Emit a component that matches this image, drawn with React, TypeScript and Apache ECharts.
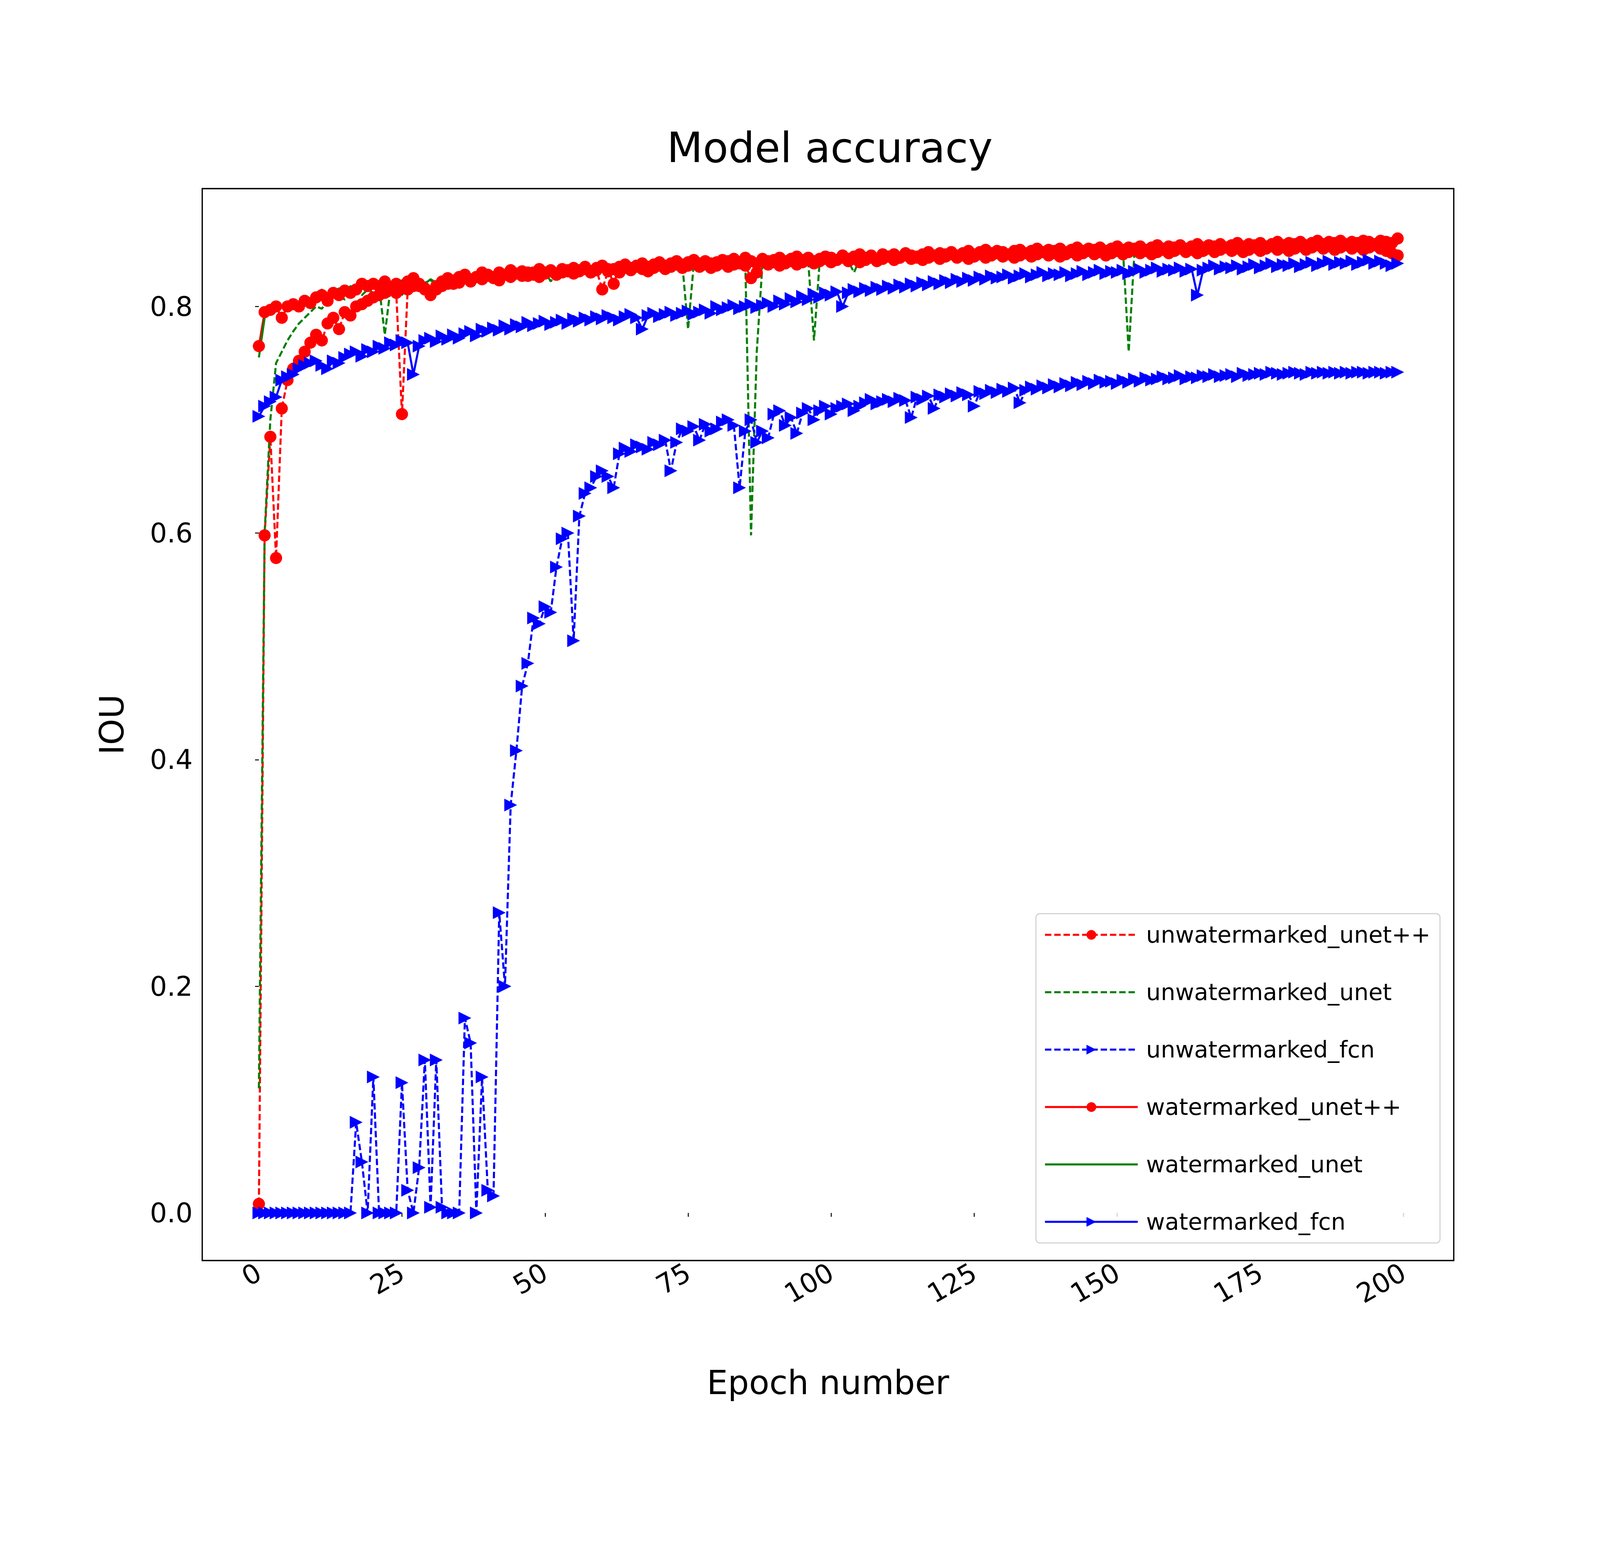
import { useEffect, useRef } from 'react';
import * as echarts from 'echarts';

const xTicks = [0, 25, 50, 75, 100, 125, 150, 175, 200];
const yTicks = [0, 0.2, 0.4, 0.6, 0.8];

const seriesNames = [
  'unwatermarked_unet++',
  'unwatermarked_unet',
  'unwatermarked_fcn',
  'watermarked_unet++',
  'watermarked_unet',
  'watermarked_fcn',
];

const wmUnetpp = [
  .765, .795, .797, .800, .790, .800, .802, .800, .805, .803,
  .808, .810, .805, .812, .810, .814, .812, .815, .820, .818,
  .820, .818, .822, .815, .820, .816, .822, .825, .818, .815,
  .812, .818, .822, .825, .820, .826, .828, .824, .826, .830,
  .828, .826, .830, .828, .832, .829, .831, .827, .830, .833,
  .830, .832, .828, .833, .831, .834, .832, .835, .830, .834,
  .836, .833, .820, .835, .837, .834, .836, .838, .835, .837,
  .839, .836, .838, .840, .837, .839, .841, .838, .840, .838,
  .839, .841, .840, .842, .838, .843, .840, .830, .842, .840,
  .841, .843, .840, .842, .844, .841, .843, .840, .842, .844,
  .843, .841, .845, .842, .844, .846, .843, .845, .842, .846,
  .844, .846, .843, .847, .845, .843, .846, .848, .845, .847,
  .846, .848, .845, .847, .849, .846, .848, .850, .847, .849,
  .848, .846, .849, .850, .847, .849, .851, .848, .850, .849,
  .851, .848, .850, .852, .849, .851, .850, .852, .849, .851,
  .853, .850, .852, .851, .853, .850, .852, .854, .851, .853,
  .852, .854, .851, .853, .855, .852, .854, .853, .855, .852,
  .854, .856, .853, .855, .854, .856, .853, .855, .857, .854,
  .856, .855, .857, .854, .856, .858, .855, .857, .856, .858,
  .855, .857, .856, .858, .857, .855, .858, .857, .856, .860,
];

const unUnetpp = [
  .008, .598, .685, .578, .710, .735, .745, .752, .760, .768,
  .775, .770, .785, .790, .780, .795, .792, .800, .802, .805,
  .808, .810, .812, .815, .812, .705, .815, .818, .820, .816,
  .810, .815, .818, .820, .823, .821, .825, .822, .826, .824,
  .827, .825, .823, .828, .826, .829, .827, .830, .828, .826,
  .829, .831, .828, .830, .832, .829, .831, .833, .830, .832,
  .815, .831, .833, .830, .834, .832, .835, .833, .831, .834,
  .836, .833, .835, .837, .834, .836, .838, .835, .837, .834,
  .836, .838, .835, .837, .839, .836, .825, .838, .840, .837,
  .839, .836, .838, .840, .837, .839, .841, .838, .840, .842,
  .839, .841, .843, .840, .842, .839, .841, .843, .840, .842,
  .844, .841, .843, .845, .842, .844, .841, .843, .845, .842,
  .844, .846, .843, .845, .842, .844, .846, .843, .845, .847,
  .844, .846, .843, .845, .847, .844, .846, .848, .845, .847,
  .844, .846, .848, .845, .847, .849, .846, .848, .845, .847,
  .849, .846, .848, .850, .847, .849, .846, .848, .850, .847,
  .849, .851, .848, .850, .847, .849, .851, .848, .850, .852,
  .849, .851, .848, .850, .852, .849, .851, .853, .850, .852,
  .849, .851, .853, .850, .852, .854, .851, .853, .850, .852,
  .854, .851, .853, .850, .852, .854, .851, .849, .847, .845,
];

const unUnet = [
  .110, .600, .700, .750, .760, .770, .778, .785, .790, .795,
  .800, .798, .805, .808, .810, .806, .812, .814, .810, .815,
  .812, .818, .775, .816, .820, .810, .818, .822, .819, .821,
  .823, .820, .825, .822, .826, .824, .828, .825, .827, .829,
  .826, .828, .830, .827, .829, .831, .828, .830, .832, .829,
  .831, .822, .830, .832, .829, .833, .831, .834, .830, .832,
  .834, .831, .833, .835, .832, .834, .836, .833, .835, .837,
  .834, .836, .838, .835, .837, .780, .838, .836, .839, .837,
  .838, .840, .837, .839, .841, .838, .598, .760, .838, .840,
  .837, .839, .841, .838, .840, .842, .839, .770, .840, .842,
  .839, .841, .843, .840, .830, .842, .844, .841, .843, .845,
  .842, .844, .841, .843, .845, .842, .844, .846, .843, .845,
  .847, .844, .846, .843, .845, .847, .844, .846, .848, .845,
  .847, .844, .846, .848, .845, .847, .849, .846, .848, .845,
  .847, .849, .846, .848, .850, .847, .849, .846, .848, .850,
  .847, .849, .760, .848, .850, .847, .849, .851, .848, .850,
  .852, .849, .851, .848, .850, .852, .849, .851, .853, .850,
  .852, .849, .851, .853, .850, .852, .854, .851, .853, .850,
  .852, .854, .851, .853, .855, .852, .854, .851, .853, .855,
  .852, .854, .856, .853, .855, .852, .854, .856, .853, .855,
];

const wmUnet = [
  .755, .790, .795, .798, .800, .803, .805, .802, .808, .806,
  .810, .815, .808, .812, .816, .813, .818, .815, .819, .817,
  .820, .818, .822, .819, .821, .823, .820, .818, .822, .820,
  .824, .821, .823, .826, .822, .825, .827, .824, .826, .828,
  .825, .827, .829, .826, .828, .830, .827, .829, .831, .828,
  .830, .832, .829, .831, .833, .830, .832, .834, .831, .833,
  .835, .832, .834, .831, .833, .835, .832, .834, .836, .833,
  .835, .837, .834, .836, .838, .835, .837, .839, .836, .838,
  .840, .837, .839, .836, .838, .840, .837, .839, .841, .838,
  .840, .842, .839, .841, .838, .840, .842, .839, .841, .843,
  .840, .842, .844, .841, .843, .845, .842, .844, .841, .843,
  .845, .842, .844, .846, .843, .845, .842, .844, .846, .843,
  .845, .847, .844, .846, .843, .845, .847, .844, .846, .848,
  .845, .847, .844, .846, .848, .845, .847, .849, .846, .848,
  .845, .847, .849, .846, .848, .850, .847, .849, .846, .848,
  .850, .847, .849, .851, .848, .850, .847, .849, .851, .848,
  .850, .852, .849, .851, .848, .850, .852, .849, .851, .853,
  .850, .852, .854, .851, .853, .850, .852, .854, .851, .853,
  .855, .852, .854, .851, .853, .855, .852, .854, .856, .853,
  .855, .852, .854, .856, .853, .855, .857, .854, .856, .855,
];

const wmFcn = [
  .703, .712, .716, .720, .735, .738, .740, .745, .748, .750,
  .752, .748, .745, .752, .750, .755, .758, .760, .756, .762,
  .760, .765, .763, .768, .766, .770, .768, .740, .765, .770,
  .772, .769, .774, .771, .775, .772, .776, .778, .774, .780,
  .778, .781, .779, .783, .780, .784, .782, .786, .783, .785,
  .787, .784, .786, .788, .785, .789, .787, .790, .788, .791,
  .789, .792, .790, .788, .791, .793, .790, .780, .792, .794,
  .791, .793, .795, .792, .794, .796, .793, .795, .797, .794,
  .800, .797, .799, .801, .798, .800, .802, .799, .801, .803,
  .800, .805, .802, .807, .804, .809, .806, .811, .808, .812,
  .810, .813, .800, .812, .815, .813, .816, .814, .817, .815,
  .818, .816, .819, .817, .820, .818, .821, .819, .822, .820,
  .823, .821, .824, .822, .825, .823, .826, .824, .827, .825,
  .826, .828, .825, .827, .829, .826, .828, .830, .827, .829,
  .828, .830, .827, .829, .831, .828, .830, .832, .829, .831,
  .830, .832, .829, .831, .833, .830, .832, .834, .831, .833,
  .832, .834, .831, .833, .810, .832, .834, .836, .833, .835,
  .834, .836, .833, .835, .837, .834, .836, .838, .835, .837,
  .836, .838, .835, .837, .839, .836, .838, .840, .837, .839,
  .838, .840, .837, .839, .841, .838, .840, .838, .836, .838,
];

const unFcn = [
  .000, .000, .000, .000, .000, .000, .000, .000, .000, .000,
  .000, .000, .000, .000, .000, .000, .000, .080, .045, .000,
  .120, .000, .000, .000, .000, .115, .020, .000, .040, .135,
  .005, .135, .005, .000, .000, .000, .172, .150, .000, .120,
  .020, .015, .265, .200, .360, .408, .465, .485, .525, .520,
  .535, .530, .570, .595, .600, .505, .615, .635, .640, .650,
  .655, .650, .640, .670, .675, .672, .678, .676, .674, .680,
  .678, .682, .655, .680, .692, .690, .694, .682, .696, .690,
  .692, .698, .700, .695, .640, .690, .700, .680, .690, .684,
  .705, .708, .695, .702, .688, .706, .710, .700, .708, .712,
  .705, .710, .712, .714, .708, .712, .715, .718, .714, .716,
  .718, .716, .719, .717, .702, .720, .718, .721, .710, .722,
  .720, .723, .721, .724, .722, .712, .725, .723, .726, .724,
  .727, .725, .728, .715, .726, .729, .727, .730, .728, .731,
  .729, .732, .730, .733, .731, .734, .732, .735, .733, .734,
  .732, .735, .733, .736, .734, .737, .735, .736, .738, .736,
  .737, .739, .736, .738, .737, .739, .738, .740, .738, .739,
  .740, .738, .741, .739, .740, .741, .740, .742, .741, .740,
  .741, .742, .741, .740, .742, .741, .742, .741, .742, .741,
  .742, .741, .742, .742, .741, .742, .742, .741, .742, .742,
];

const font = 'DejaVu Sans';

function pairs(vals: number[]) {
  return vals.map((v, i) => [i, v]);
}

export default function App() {
  const ref = useRef<HTMLDivElement>(null);

  useEffect(() => {
    if (!ref.current) return;
    document.body.style.margin = '0';
    const chart = echarts.init(ref.current, null, { renderer: 'svg' });
    const W = ref.current.clientWidth;
    const H = ref.current.clientHeight;
    const s = W / 5000;
    const sy = H / 4000;

    const mk = (name: string, vals: number[], color: string, dashed: boolean, symbol: string | null) => ({
      name,
      type: 'line' as const,
      data: pairs(vals),
      showSymbol: symbol !== null,
      symbol: symbol ?? 'none',
      symbolSize: (symbol === 'triangle' ? 40 : 38) * s,
      symbolRotate: symbol === 'triangle' ? -90 : 0,
      lineStyle: { color, width: 6.5 * s, type: dashed ? [20 * s, 9 * s] : 'solid' },
      itemStyle: { color },
      emphasis: { disabled: true },
    });

    chart.setOption({
      animation: false,
      backgroundColor: '#fff',
      title: {
        text: 'Model accuracy',
        left: 2587 * s,
        textAlign: 'center',
        top: 320 * sy,
        textStyle: { fontFamily: font, fontSize: 130 * s, fontWeight: 'normal', color: '#000' },
      },
      grid: {
        left: 632 * s, right: 457 * s, top: 483 * sy, bottom: 772 * sy,
        show: true, borderColor: '#000', borderWidth: 4 * s, backgroundColor: 'transparent',
      },
      legend: {
        orient: 'vertical',
        right: 500 * s,
        bottom: 817 * sy,
        itemWidth: 290 * s,
        itemHeight: 38 * s,
        itemGap: 88 * sy,
        padding: [30 * s, 30 * s, 30 * s, 25 * s],
        backgroundColor: 'rgba(255,255,255,0.8)',
        borderColor: '#ccc',
        borderWidth: 3 * s,
        borderRadius: 12 * s,
        lineStyle: { width: 6.5 * s },
        textStyle: { fontFamily: font, fontSize: 72 * s, color: '#000', padding: [0, 0, 0, 20 * s] },
        data: seriesNames.map((n) =>
          n.endsWith('_unet')
            ? { name: n, itemStyle: { color: 'transparent', borderWidth: 0 } }
            : { name: n }
        ),
      },
      xAxis: {
        type: 'value',
        min: -9.9,
        max: 208.8,
        name: 'Epoch number',
        nameLocation: 'middle',
        nameGap: 270 * sy,
        nameTextStyle: { fontFamily: font, fontSize: 104 * s, color: '#000' },
        splitLine: { show: false },
        axisLine: { show: false },
        axisTick: { show: true, inside: false, length: 12 * s, lineStyle: { color: '#000', width: 3 * s }, customValues: xTicks },
        axisLabel: {
          customValues: xTicks, rotate: 30, fontFamily: font, fontSize: 84 * s, color: '#000', margin: 30 * s,
        },
      },
      yAxis: {
        type: 'value',
        min: -0.042,
        max: 0.904,
        name: 'IOU',
        nameLocation: 'middle',
        nameGap: 230 * s,
        nameTextStyle: { fontFamily: font, fontSize: 104 * s, color: '#000' },
        splitLine: { show: false },
        axisLine: { show: false },
        axisTick: { show: true, inside: false, length: 12 * s, lineStyle: { color: '#000', width: 3 * s }, customValues: yTicks },
        axisLabel: {
          customValues: yTicks, fontFamily: font, fontSize: 84 * s, color: '#000', margin: 30 * s,
          formatter: (v: number) => v.toFixed(1),
        },
      },
      series: [
        mk(seriesNames[0], unUnetpp, '#ff0000', true, 'circle'),
        mk(seriesNames[1], unUnet, '#008000', true, null),
        mk(seriesNames[2], unFcn, '#0000ff', true, 'triangle'),
        mk(seriesNames[3], wmUnetpp, '#ff0000', false, 'circle'),
        mk(seriesNames[4], wmUnet, '#008000', false, null),
        mk(seriesNames[5], wmFcn, '#0000ff', false, 'triangle'),
      ],
    });

    return () => chart.dispose();
  }, []);

  return <div ref={ref} style={{ width: '100vw', height: '100vh' }} />;
}
